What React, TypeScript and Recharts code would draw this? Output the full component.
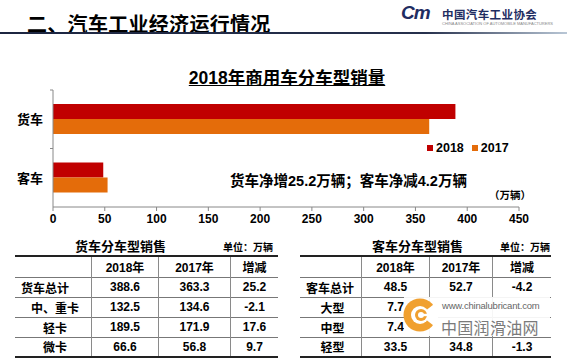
import React from "react";
import { Bar, BarChart, Legend, XAxis, YAxis } from "recharts";

const FONT = "'Liberation Sans', 'Noto Sans CJK SC', sans-serif";

// chart data
const categories = ["货车", "客车"];
const sales2018 = [388.6, 48.5];
const sales2017 = [363.3, 52.7];
const xTicks = [0, 50, 100, 150, 200, 250, 300, 350, 400, 450];

const series = [
  { key: "y2018", name: "2018", color: "#C00000" },
  { key: "y2017", name: "2017", color: "#E46C0A" },
];

// tables
const tableHead = ["", "2018年", "2017年", "增减"];
const truckRows = ["货车总计", "中、重卡", "轻卡", "微卡"];
const truck2018 = ["388.6", "132.5", "189.5", "66.6"];
const truck2017 = ["363.3", "134.6", "171.9", "56.8"];
const truckDiff = ["25.2", "-2.1", "17.6", "9.7"];
const busRows = ["客车总计", "大型", "中型", "轻型"];
const bus2018 = ["48.5", "7.7", "7.4", "33.5"];
const bus2017 = ["52.7", "", "", "34.8"]; // hidden under watermark
const busDiff = ["-4.2", "", "", "-1.3"];

const data = categories.map((name, i) => ({
  name,
  y2018: sales2018[i],
  y2017: sales2017[i],
}));

const CHART_H = 180;
const MARGIN = { top: 30, right: 48, bottom: 3, left: 0 };
const X_AXIS_H = 30;
const halfBand = (CHART_H - MARGIN.top - MARGIN.bottom - X_AXIS_H) / categories.length / 2;

const CategoryTick = (props: any) => {
  const { x, y, payload } = props;
  const ax = x + 10;
  return (
    <g>
      <line x1={ax - 3} x2={ax} y1={y - halfBand} y2={y - halfBand} stroke="#888" />
      <text x={x} y={y} dy={5} textAnchor="end" fontSize={13} fontWeight="bold" fill="#000" fontFamily={FONT}>
        {payload.value}
      </text>
    </g>
  );
};

const LegendBox = () => (
  <div style={{ display: "flex", alignItems: "center", fontFamily: FONT }}>
    {series.map((s) => (
      <div key={s.key} style={{ display: "flex", alignItems: "center", marginRight: 8 }}>
        <span style={{ width: 6, height: 6, background: s.color, marginRight: 3, display: "inline-block" }} />
        <span style={{ fontSize: 12.5, fontWeight: "bold", color: "#000" }}>{s.name}</span>
      </div>
    ))}
  </div>
);

type TableProps = {
  left: number;
  widths: number[];
  title: string;
  titleLeft: number;
  unitLeft: number;
  rows: string[];
  c1: string[];
  c2: string[];
  c3: string[];
};

function SalesTable({ left, widths, title, titleLeft, unitLeft, rows, c1, c2, c3 }: TableProps) {
  const total = widths.reduce((a, b) => a + b, 0);
  const cell = (w: number, extra: React.CSSProperties = {}): React.CSSProperties => ({
    width: w,
    textAlign: "center",
    fontWeight: "bold",
    fontSize: 12,
    padding: 0,
    borderLeft: "1px solid #8a8a8a",
    ...extra,
  });
  return (
    <>
      <div style={{ position: "absolute", left: titleLeft, top: 236, fontSize: 13, fontWeight: "bold", fontFamily: FONT }}>
        {title}
      </div>
      <div style={{ position: "absolute", left: unitLeft, top: 239, fontSize: 10, fontWeight: "bold", fontFamily: FONT }}>
        单位：万辆
      </div>
      <table
        style={{
          position: "absolute",
          left,
          top: 255,
          width: total,
          borderCollapse: "collapse",
          fontFamily: FONT,
          borderTop: "2px solid #222",
          borderBottom: "2px solid #222",
          tableLayout: "fixed",
        }}
      >
        <tbody>
          <tr style={{ height: 21, borderBottom: "1px solid #777" }}>
            {tableHead.map((h, i) => (
              <td key={i} style={cell(widths[i], i === 0 ? { borderLeft: "none" } : {})}>
                {h}
              </td>
            ))}
          </tr>
          {rows.map((r, i) => (
            <tr key={r} style={{ height: 20, borderBottom: i < rows.length - 1 ? "1px solid #777" : "none" }}>
              <td style={cell(widths[0], { borderLeft: "none", textAlign: i === 0 ? "left" : "center", paddingLeft: i === 0 ? 6 : 4 })}>
                {r}
              </td>
              <td style={cell(widths[1])}>{c1[i]}</td>
              <td style={cell(widths[2])}>{c2[i]}</td>
              <td style={cell(widths[3])}>{c3[i]}</td>
            </tr>
          ))}
        </tbody>
      </table>
    </>
  );
}

export default function App() {
  return (
    <div
      style={{
        position: "absolute",
        left: 0,
        top: 0,
        width: 567,
        height: 360,
        overflow: "hidden",
        background: "#fff",
        fontFamily: FONT,
        color: "#000",
      }}
    >
      {/* slide header */}
      <div style={{ position: "absolute", left: 27, top: 9, fontSize: 20, fontWeight: "bold", letterSpacing: 0.3 }}>
        二、汽车工业经济运行情况
      </div>
      <div
        style={{
          position: "absolute",
          left: 0,
          top: 32,
          width: 567,
          height: 2,
          background: "linear-gradient(90deg, #1c2540 0%, #26304c 75%, #b9c7d6 100%)",
        }}
      />
      <div
        style={{
          position: "absolute",
          left: 401,
          top: 2,
          fontSize: 19,
          fontWeight: "bold",
          fontStyle: "italic",
          color: "#1f2d62",
          letterSpacing: -1,
        }}
      >
        Cm
      </div>
      <div style={{ position: "absolute", left: 442, top: 6, fontSize: 11.5, fontWeight: "bold", color: "#1f2d62", letterSpacing: 0.4 }}>
        中国汽车工业协会
      </div>
      <div style={{ position: "absolute", left: 442, top: 21, fontSize: 4, color: "#888", whiteSpace: "nowrap" }}>
        CHINA ASSOCIATION OF AUTOMOBILE MANUFACTURERS
      </div>

      {/* chart title */}
      <div
        style={{
          position: "absolute",
          left: 0,
          width: 574,
          top: 64,
          textAlign: "center",
          fontSize: 17.5,
          fontWeight: "bold",
          textDecoration: "underline",
        }}
      >
        2018年商用车分车型销量
      </div>

      <div style={{ position: "absolute", left: 0, top: 60 }}>
        <BarChart
          width={567}
          height={CHART_H}
          data={data}
          layout="vertical"
          margin={MARGIN}
          barCategoryGap="24%"
          barGap={0}
        >
          <XAxis
            type="number"
            domain={[0, 450]}
            ticks={xTicks}
            height={X_AXIS_H}
            stroke="#888"
            tickSize={4}
            tickMargin={3}
            tick={{ fill: "#000", fontSize: 12, fontWeight: "bold", fontFamily: FONT }}
          />
          <YAxis
            type="category"
            dataKey="name"
            width={53}
            stroke="#888"
            tickSize={0}
            tickMargin={10}
            tick={<CategoryTick />}
          />
          <Legend
            layout="horizontal"
            verticalAlign="middle"
            align="center"
            content={<LegendBox />}
            wrapperStyle={{ left: 427, top: 81, width: 110 }}
          />
          {series.map((s) => (
            <Bar key={s.key} dataKey={s.key} name={s.name} fill={s.color} barSize={15} isAnimationActive={false} />
          ))}
        </BarChart>
      </div>

      {/* annotations */}
      <div style={{ position: "absolute", left: 230, top: 169, fontSize: 14.5, fontWeight: "bold", whiteSpace: "nowrap" }}>
        货车净增25.2万辆；客车净减4.2万辆
      </div>
      <div style={{ position: "absolute", left: 489, top: 187, fontSize: 10.5, fontWeight: "bold", whiteSpace: "nowrap" }}>
        （万辆）
      </div>

      <SalesTable
        left={15}
        widths={[76, 66, 71, 47]}
        title="货车分车型销售"
        titleLeft={75}
        unitLeft={223}
        rows={truckRows}
        c1={truck2018}
        c2={truck2017}
        c3={truckDiff}
      />
      <SalesTable
        left={300}
        widths={[61, 67, 62, 58]}
        title="客车分车型销售"
        titleLeft={372}
        unitLeft={500}
        rows={busRows}
        c1={bus2018}
        c2={bus2017}
        c3={busDiff}
      />

      {/* watermark */}
      <div style={{ position: "absolute", left: 404, top: 297, width: 146, height: 39, background: "rgba(255,255,255,0.92)" }} />
      <svg style={{ position: "absolute", left: 402, top: 297 }} width={36} height={36} viewBox="0 0 36 36">
        <circle cx={18} cy={18} r={16.5} fill="#F0A030" />
        <path d="M18 18 L36 4 L36 32 Z" fill="#fff" />
        <circle cx={18} cy={18} r={9} fill="#fff" />
        <circle cx={19} cy={18} r={6} fill="#F0A030" />
        <circle cx={19} cy={18} r={3} fill="#fff" />
        <rect x={19} y={16.8} width={17} height={2.4} fill="#fff" />
      </svg>
      <div style={{ position: "absolute", left: 442, top: 300, fontSize: 9.5, color: "#666", fontFamily: "'Liberation Sans', sans-serif", whiteSpace: "nowrap", letterSpacing: -0.2 }}>
        www.chinalubricant.com
      </div>
      <div style={{ position: "absolute", left: 441, top: 315, fontSize: 16, color: "#7a7a7a", fontWeight: "normal", letterSpacing: 0.3, whiteSpace: "nowrap" }}>
        中国润滑油网
      </div>
    </div>
  );
}
